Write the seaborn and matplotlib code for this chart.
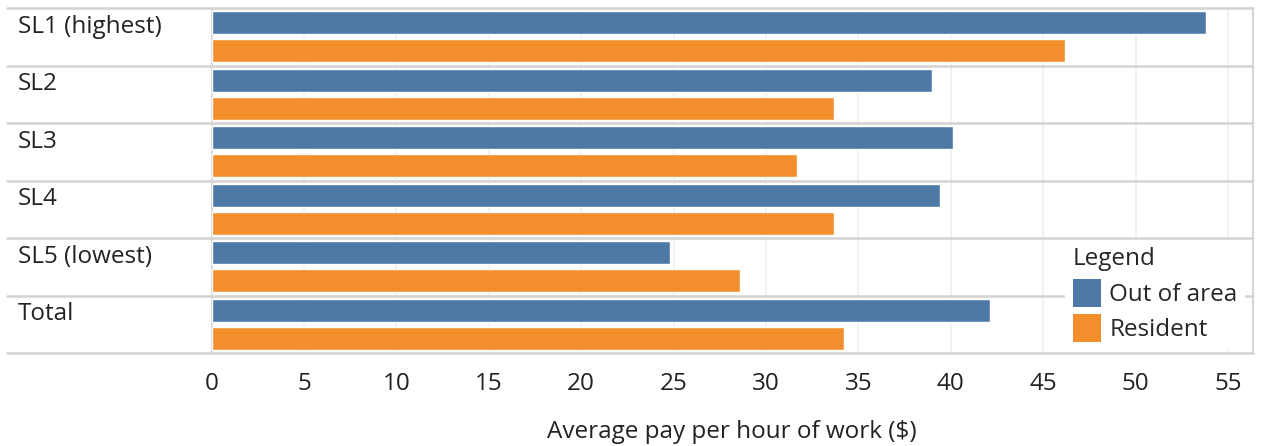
import seaborn as sns
import matplotlib.pyplot as plt
import matplotlib.transforms as mtransforms
from matplotlib.patches import Patch
import pandas as pd

# data
levels = ["SL1 (highest)", "SL2", "SL3", "SL4", "SL5 (lowest)", "Total"]
out_of_area = [53.8, 39.0, 40.1, 39.4, 24.8, 42.1]
resident = [46.2, 33.7, 31.7, 33.7, 28.6, 34.2]
groups = ["Out of area", "Resident"]
colors = ["#4e79a7", "#f28e2b"]
xticks = [0, 5, 10, 15, 20, 25, 30, 35, 40, 45, 50, 55]

df = pd.DataFrame({
    "level": levels * 2,
    "group": [groups[0]] * len(levels) + [groups[1]] * len(levels),
    "pay": out_of_area + resident,
})

sns.set_style("white")
plt.rcParams["font.family"] = ["Open Sans", "DejaVu Sans"]
fs = 17.5

W, H = 1266, 446
fig = plt.figure(figsize=(W / 100, H / 100), dpi=100)
left, right, top, bottom = 211.5, 1253, 8, 353
ax = fig.add_axes([left / W, 1 - bottom / H, (right - left) / W, (bottom - top) / H])

sns.barplot(data=df, y="level", x="pay", hue="group", orient="h",
            palette=colors, saturation=1, width=0.974, gap=0.18,
            ax=ax, legend=False, zorder=3)

ax.set_xlim(0, (right - left) / 18.48)
ax.set_ylim(len(levels) - 0.5, -0.5)
ax.set_xticks(xticks)
ax.set_xticklabels([str(t) for t in xticks], fontsize=fs, color="#222222")
ax.set_yticks([])
ax.set_ylabel("")
ax.set_xlabel("Average pay per hour of work ($)", fontsize=fs, color="#222222", labelpad=17)
ax.tick_params(axis="x", length=6, width=1, color="#eeeeee", pad=8)

ax.grid(axis="x", color="#efefef", linewidth=1.2, zorder=0)
ax.set_axisbelow(True)
for s in ["top", "bottom"]:
    ax.spines[s].set_visible(False)
ax.spines["left"].set_color("#d5d5d5")
ax.spines["right"].set_color("#d5d5d5")
ax.spines["left"].set_linewidth(1.2)
ax.spines["right"].set_linewidth(1.5)

# row separators spanning into the label column
trans = mtransforms.blended_transform_factory(ax.transAxes, ax.transData)
x0 = (7 - left) / (right - left)
for i in range(len(levels) + 1):
    ax.plot([x0, 1], [i - 0.5, i - 0.5], transform=trans, color="#d3d3d3",
            linewidth=1.8, clip_on=False, zorder=1)

# row labels
for i, name in enumerate(levels):
    ax.text((18 - left) / (right - left), i - 0.17, name, transform=trans,
            ha="left", va="center", fontsize=fs, color="#222222")

handles = [Patch(facecolor=c, edgecolor="none") for c in colors]
leg = ax.legend(handles, groups, title="Legend", loc="lower right",
                bbox_to_anchor=(0.992, 0.01), borderaxespad=0, frameon=True,
                fontsize=fs, title_fontsize=fs, alignment="left",
                handlelength=1.15, handleheight=1.4, labelspacing=0.3,
                handletextpad=0.35, borderpad=0.3)
leg.get_frame().set_facecolor("white")
leg.get_frame().set_edgecolor("none")
leg.get_frame().set_alpha(1)
leg.set_zorder(5)

plt.savefig("out.png", dpi=100)
